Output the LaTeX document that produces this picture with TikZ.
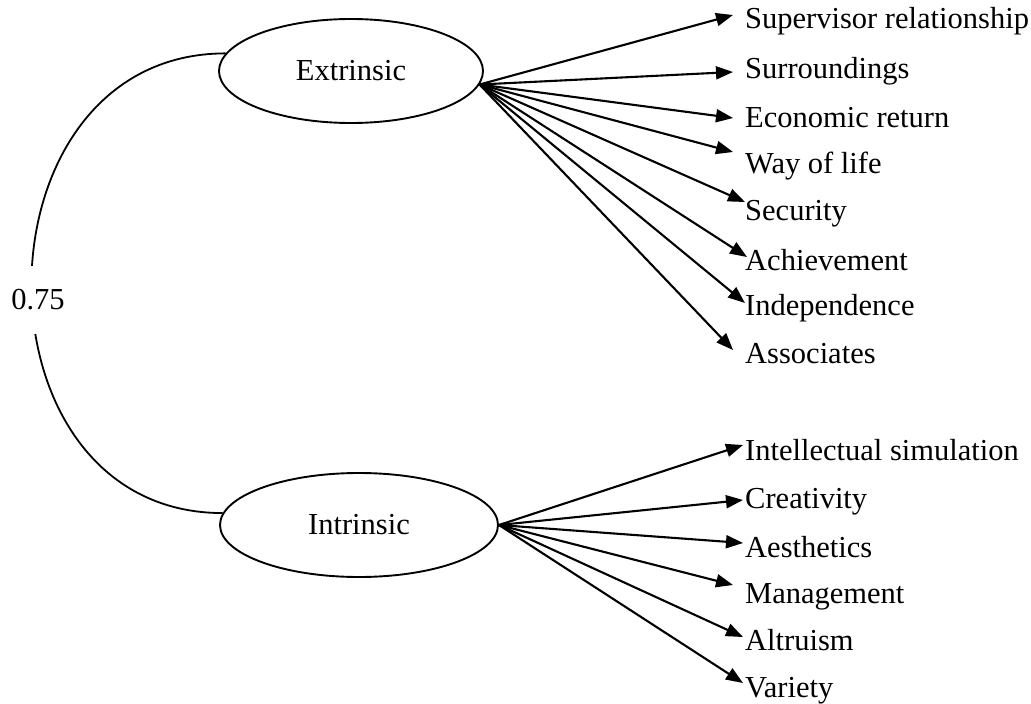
\documentclass[tikz,border=0pt]{standalone}
\usepackage{fontspec}
\setmainfont{Liberation Serif}
\usetikzlibrary{arrows.meta,shapes.geometric}
\begin{document}
\begin{tikzpicture}[x=1pt,y=-1pt,
  every node/.style={font=\fontsize{30.5}{36}\selectfont},
  latent/.style={draw,ellipse,line width=1.9pt,inner sep=0pt},
  item/.style={anchor=base west,inner sep=0pt},
  arr/.style={line width=2.1pt,-{Triangle[length=17pt,width=13pt]}},
  cov/.style={line width=1.8pt}]
\useasboundingbox[fill=white] (0,0) rectangle (1031,704);
\node[latent,minimum width=264pt,minimum height=104pt] (ext) at (351,71) {Extrinsic};
\node[latent,minimum width=278pt,minimum height=104pt] (int) at (359,525) {Intrinsic};
% extrinsic items
\node[item] (e1) at (745,28) {Supervisor relationship};
\node[item] (e2) at (745,78) {Surroundings};
\node[item] (e3) at (745,127) {Economic return};
\node[item] (e4) at (745,173) {Way of life};
\node[item] (e5) at (745,220) {Security};
\node[item] (e6) at (745,270) {Achievement};
\node[item] (e7) at (745,315) {Independence};
\node[item] (e8) at (745,363) {Associates};
% intrinsic items
\node[item] (i1) at (745,460) {Intellectual simulation};
\node[item] (i2) at (745,508) {Creativity};
\node[item] (i3) at (745,557) {Aesthetics};
\node[item] (i4) at (745,603) {Management};
\node[item] (i5) at (745,650) {Altruism};
\node[item] (i6) at (745,697) {Variety};
\coordinate (es) at (ext.-6);
\coordinate (is) at (int.east);
\draw[arr] (es) -- ([shift={(-12,-13)}]e1.base west);
\draw[arr] (es) -- ([shift={(-12,-6)}]e2.base west);
\draw[arr] (es) -- ([shift={(-12,-9)}]e3.base west);
\draw[arr] (es) -- ([shift={(-12,-21)}]e4.base west);
\draw[arr] (es) -- ([shift={(0,-18)}]e5.base west);
\draw[arr] (es) -- ([shift={(2,-13)}]e6.base west);
\draw[arr] (es) -- ([shift={(0,-12)}]e7.base west);
\draw[arr] (es) -- ([shift={(-12,-13)}]e8.base west);
\draw[arr] (is) -- ([shift={(-2,-15)}]i1.base west);
\draw[arr] (is) -- ([shift={(-2,-8)}]i2.base west);
\draw[arr] (is) -- ([shift={(-2,-14)}]i3.base west);
\draw[arr] (is) -- ([shift={(-12,-18)}]i4.base west);
\draw[arr] (is) -- ([shift={(-2,-13)}]i5.base west);
\draw[arr] (is) -- ([shift={(-2,-14)}]i6.base west);
% covariance
\draw[cov] (ext.172) .. controls +(-257,0) and +(-257,0) .. (int.175);
\node[fill=white,inner xsep=4pt,inner ysep=24pt] (r) at (38,300) {0.75};
\end{tikzpicture}
\end{document}
